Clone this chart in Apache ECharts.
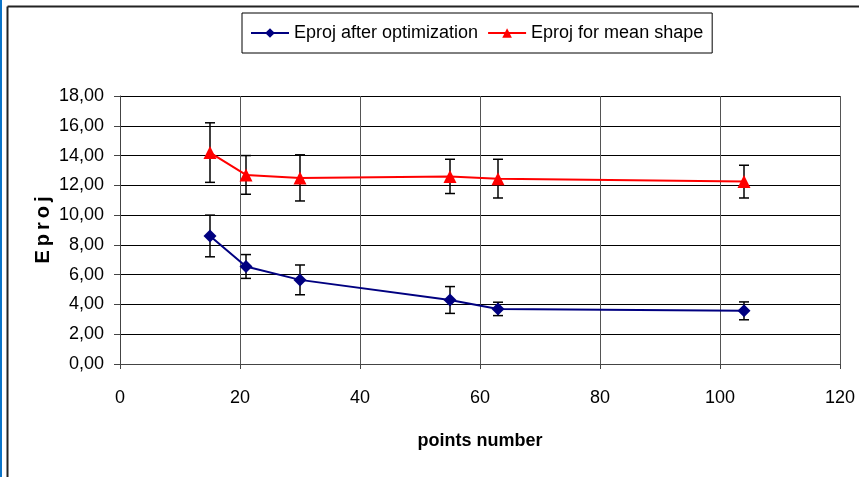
<!DOCTYPE html>
<html>
<head>
<meta charset="utf-8">
<script src="https://cdn.jsdelivr.net/npm/echarts@6/dist/echarts.min.js"></script>
<style>html,body{margin:0;padding:0;background:#fff}#c{width:859px;height:477px}</style>
</head>
<body>
<div id="c"></div>
<script>
var pointsNumber = [15, 21, 30, 55, 63, 104];
var eprojOpt = [8.6, 6.55, 5.65, 4.3, 3.7, 3.57];
var eprojOptErr = [1.4, 0.8, 1.0, 0.9, 0.45, 0.6];
var eprojMean = [14.2, 12.7, 12.5, 12.6, 12.45, 12.25];
var eprojMeanErr = [2.0, 1.3, 1.55, 1.15, 1.3, 1.1];
var xTicks = [0, 20, 40, 60, 80, 100, 120];
var yTicks = [0, 2, 4, 6, 8, 10, 12, 14, 16, 18];

function pairs(xs, ys) { return xs.map(function (x, i) { return [x, ys[i]]; }); }
function errs(xs, ys, es) { return xs.map(function (x, i) { return [x, ys[i] - es[i], ys[i] + es[i]]; }); }

function errRender(params, api) {
  var x = api.value(0);
  var lo = api.coord([x, api.value(1)]);
  var hi = api.coord([x, api.value(2)]);
  var hw = 5;
  var st = { stroke: '#000', lineWidth: 1.5 };
  return {
    type: 'group',
    children: [
      { type: 'line', shape: { x1: hi[0], y1: hi[1], x2: lo[0], y2: lo[1] }, style: st },
      { type: 'line', shape: { x1: hi[0] - hw, y1: hi[1], x2: hi[0] + hw, y2: hi[1] }, style: st },
      { type: 'line', shape: { x1: lo[0] - hw, y1: lo[1], x2: lo[0] + hw, y2: lo[1] }, style: st }
    ]
  };
}

var chart = echarts.init(document.getElementById('c'), null, { renderer: 'canvas' });
chart.setOption({
  animation: false,
  backgroundColor: '#fff',
  textStyle: { fontFamily: 'Liberation Sans, Arial, sans-serif' },
  graphic: [
    { type: 'rect', left: 0, top: 0, shape: { width: 2, height: 477 }, style: { fill: '#0b74c8' }, silent: true },
    { type: 'line', shape: { x1: 7.5, y1: 6.5, x2: 859, y2: 6.5 }, style: { stroke: '#222', lineWidth: 2 }, silent: true },
    { type: 'line', shape: { x1: 7.5, y1: 6.5, x2: 7.5, y2: 477 }, style: { stroke: '#222', lineWidth: 2 }, silent: true }
  ],
  legend: {
    left: 242, top: 13,
    borderColor: '#000', borderWidth: 1,
    padding: [10, 9, 10, 8],
    itemGap: 9, itemWidth: 38, itemHeight: 12,
    textStyle: { fontSize: 18, color: '#000', lineHeight: 20 },
    data: ['Eproj after optimization', 'Eproj for mean shape']
  },
  grid: { left: 120, right: 19, top: 96, bottom: 113, containLabel: false },
  xAxis: {
    type: 'value', min: 0, max: 120, interval: 20,
    name: 'points number', nameLocation: 'middle', nameGap: 68,
    nameTextStyle: { fontSize: 18, fontWeight: 'bold', color: '#000' },
    axisLine: { show: true, onZero: false, lineStyle: { color: '#444', width: 1 } },
    axisTick: { show: true, length: 5, lineStyle: { color: '#444' } },
    axisLabel: { fontSize: 18, color: '#000', margin: 25,
      customValues: xTicks },
    splitLine: { show: true, lineStyle: { color: '#555', width: 1 } }
  },
  yAxis: {
    type: 'value', min: 0, max: 18, interval: 2,
    name: 'E\u2009p\u2009r\u2009o\u2009j', nameLocation: 'middle', nameGap: 67, nameRotate: 90,
    nameMoveOverlap: false,
    nameTextStyle: { fontSize: 20, fontWeight: 'bold', color: '#000' },
    axisLine: { show: true, lineStyle: { color: '#444', width: 1 } },
    axisTick: { show: true, length: 6, lineStyle: { color: '#444' } },
    axisLabel: { fontSize: 18, color: '#000', margin: 16,
      customValues: yTicks,
      formatter: function (v) { return v.toFixed(2).replace('.', ','); } },
    splitLine: { show: true, lineStyle: { color: '#000', width: 1 } }
  },
  series: [
    {
      name: 'Eproj after optimization', type: 'line', z: 3,
      data: pairs(pointsNumber, eprojOpt),
      symbol: 'diamond', symbolSize: 13,
      itemStyle: { color: '#000080' },
      lineStyle: { color: '#000080', width: 2 }
    },
    {
      name: 'Eproj for mean shape', type: 'line', z: 3,
      data: pairs(pointsNumber, eprojMean),
      symbol: 'triangle', symbolSize: 13,
      itemStyle: { color: '#ff0000' },
      lineStyle: { color: '#ff0000', width: 2 }
    },
    { type: 'custom', z: 2, renderItem: errRender, data: errs(pointsNumber, eprojOpt, eprojOptErr), encode: { x: 0, y: [1, 2] } },
    { type: 'custom', z: 2, renderItem: errRender, data: errs(pointsNumber, eprojMean, eprojMeanErr), encode: { x: 0, y: [1, 2] } }
  ]
});
</script>
</body>
</html>
